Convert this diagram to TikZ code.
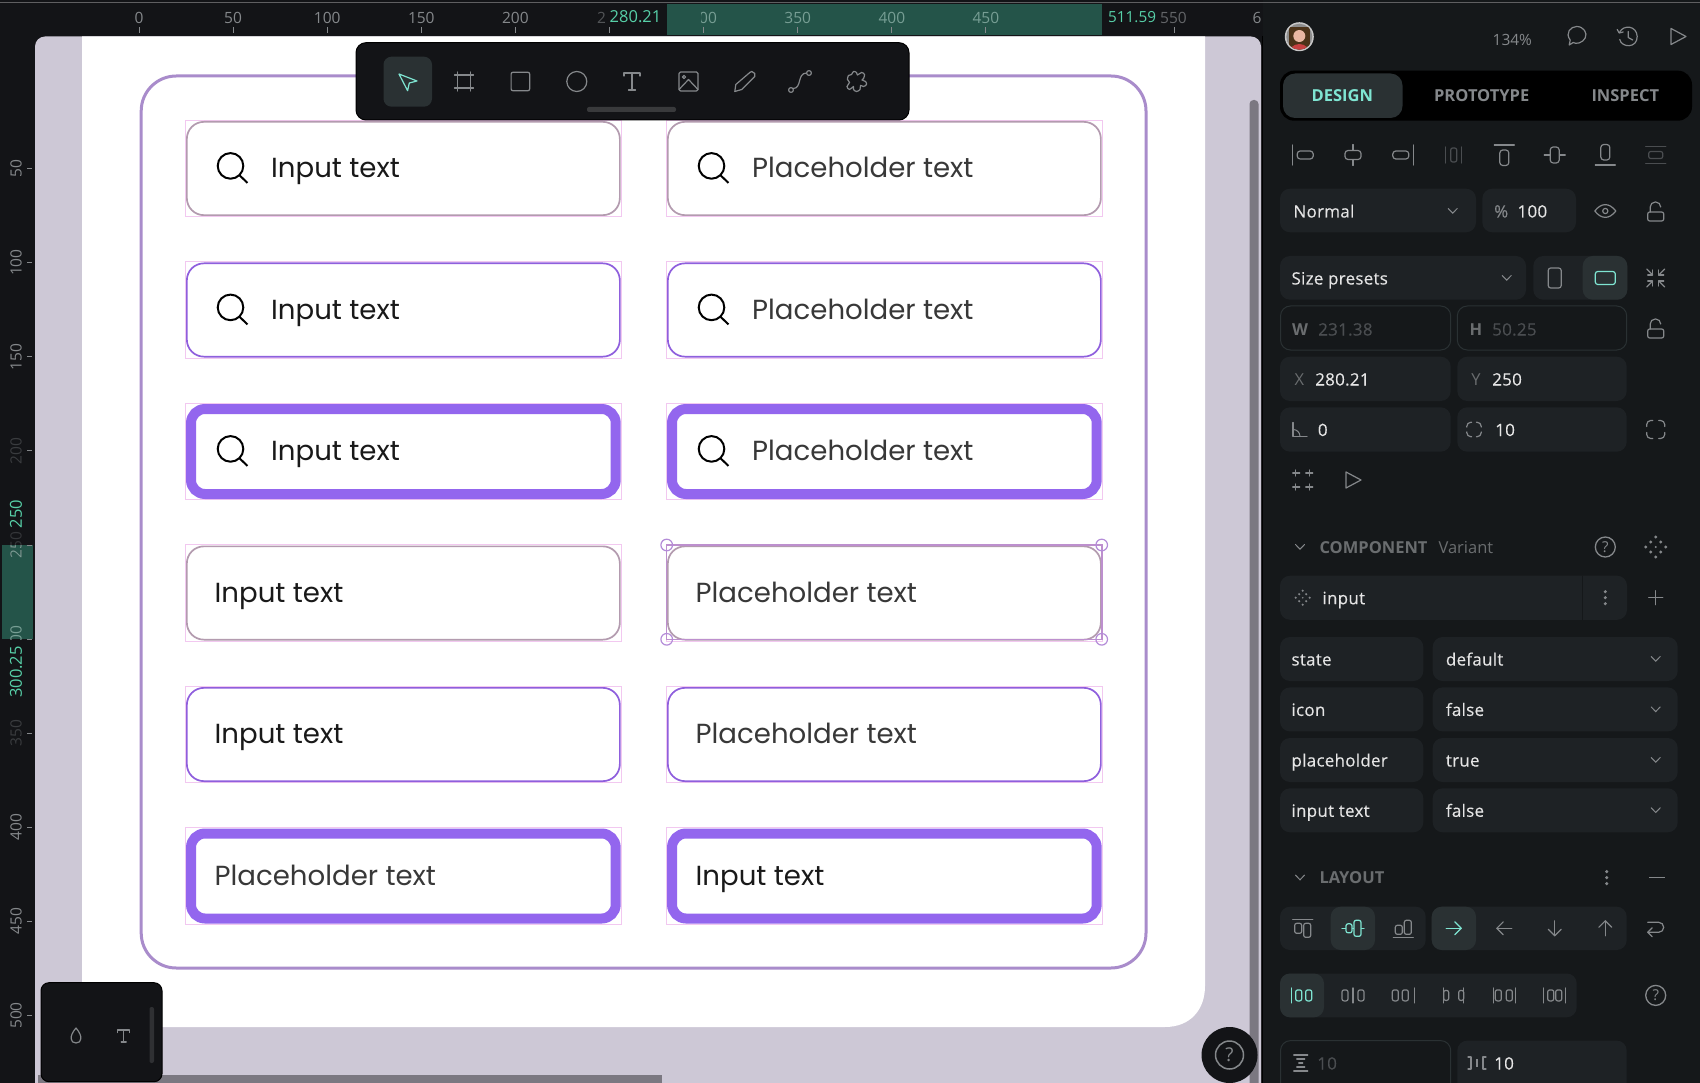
\documentclass[tikz,border=0pt]{standalone}
\usepackage{fontspec}
\setmainfont{Open Sans}
\newfontfamily\inputfont{Poppins}
\newfontfamily\panelfam[FakeBold=0.25,LetterSpace=1.5]{Open Sans}
\usetikzlibrary{positioning}
\definecolor{panelbg}{HTML}{15181A}
\definecolor{rulerbg}{HTML}{131417}
\definecolor{canvasbg}{HTML}{CDC8D6}
\definecolor{bandgreen}{HTML}{245449}
\definecolor{mintgreen}{HTML}{57D0A8}
\definecolor{tealicon}{HTML}{7FE5D2}
\definecolor{fieldbg}{HTML}{1E2225}
\definecolor{tilebg}{HTML}{2A3133}
\definecolor{icongray}{HTML}{85888B}
\definecolor{dimgray}{HTML}{4A4D50}
\definecolor{framepurple}{HTML}{A98CCB}
\definecolor{boxpurple}{HTML}{8F5FDD}
\definecolor{thickpurple}{HTML}{9366EE}
\definecolor{boxgray}{HTML}{B39BAF}
\definecolor{guidepink}{HTML}{F2C8F0}
\definecolor{handlepurple}{HTML}{B48CD8}
\definecolor{selectpurple}{HTML}{BD8FCE}
\tikzstyle{inputbox}=[anchor=north west,inner sep=0pt,fill=white,rounded corners=17pt,minimum width=433pt,minimum height=93.3pt,line width=1.7pt]
\tikzstyle{greybox}=[inputbox,draw=boxgray]
\tikzstyle{thinbox}=[inputbox,draw=boxpurple]
\tikzstyle{thickbox}=[inputbox,draw=thickpurple,line width=10pt,rounded corners=14pt,minimum width=424.7pt,minimum height=85pt]
\tikzstyle{boxtext}=[anchor=west,inner sep=0pt,text height=19.3pt,text depth=0pt,font=\inputfont\fontsize{27.6}{30}\selectfont]
\tikzstyle{inputtext}=[boxtext,text=black!90]
\tikzstyle{placetext}=[boxtext,text=black!78]
\tikzstyle{rulertext}=[inner sep=0pt,text=icongray,font=\fontsize{15.5}{17}\selectfont]
\tikzstyle{greentext}=[inner sep=0pt,text=mintgreen,font=\fontsize{16.5}{18}\selectfont]
\tikzstyle{panelfont}=[anchor=west,inner sep=0pt,text height=13pt,text depth=0pt,text=white!90!black,font=\panelfam\fontsize{17}{19}\selectfont]
\tikzstyle{dimfont}=[panelfont,text=dimgray]
\tikzstyle{labelfont}=[inner sep=0pt,text height=12pt,text depth=0pt,text=icongray,font=\bfseries\fontsize{16.5}{19}\selectfont]
\tikzstyle{headfont}=[labelfont,anchor=west,text=icongray!80!black]
\tikzstyle{field}=[fill=fieldbg,rounded corners=10pt]
\tikzstyle{outlinefield}=[draw=tilebg,line width=1pt,rounded corners=10pt]
\tikzstyle{tile}=[fill=tilebg,rounded corners=10pt]
\tikzstyle{iconline}=[line width=1.2pt,line cap=round,line join=round]
\tikzset{
  searchicon/.pic={\draw[line width=2pt] (0,0) circle (12.8pt);
    \draw[line width=2pt] (8.8,9.2) -- (17,17);},
  chevron/.pic={\draw[line width=1pt,line cap=round] (-4.5,-2.5) -- (0,2.2) -- (4.5,-2.5);},
  lockicon/.pic={\draw[iconline,rounded corners=2pt] (-8,1) rectangle (8,10);
    \draw[iconline,rounded corners=5pt] (-5.5,1) -- (-5.5,-9) -- (5,-9) -- (5,-4);},
  eyeicon/.pic={\draw[iconline] (-10.5,0) .. controls (-4,-8.5) and (4,-8.5) .. (10.5,0) .. controls (4,8.5) and (-4,8.5) .. cycle;
    \draw[iconline] (0,0) circle (2.6pt);},
  playicon/.pic={\draw[iconline] (-7,-8) -- (8,0) -- (-7,8) -- cycle;},
  commenticon/.pic={\draw[iconline] (-7.5,9) -- (-6.5,4) .. controls (-12,-3) and (-6,-9.5) .. (0,-9.5) .. controls (7,-9.5) and (11,-3) .. (8.5,2) .. controls (6,7) and (-1,8.5) .. (-3.5,6.5) -- cycle;},
  historyicon/.pic={\draw[iconline] (-8,-4.5) .. controls (-4,-12) and (9,-11) .. (9.5,0) .. controls (9.5,12) and (-6,11.5) .. (-8,3);
    \draw[iconline] (-10.5,-7) -- (-8.5,-3.5) -- (-4.5,-4.5);
    \draw[iconline] (0.5,-5) -- (0.5,1) -- (5,3.5);},
  alignleft/.pic={\draw[iconline] (-10,-10) -- (-10,10);
    \draw[iconline,rounded corners=3pt] (-5.5,-4) rectangle (10.5,4);},
  alignhmid/.pic={\draw[iconline] (0,-10.5) -- (0,10.5);
    \draw[iconline,fill=panelbg,rounded corners=3pt] (-8,-4.5) rectangle (8,4.5);},
  alignright/.pic={\draw[iconline] (10,-10) -- (10,10);
    \draw[iconline,rounded corners=3pt] (-10.5,-4) rectangle (5.5,4);},
  disthoriz/.pic={\draw[iconline] (-8,-8) -- (-8,8);
    \draw[iconline] (8,-8) -- (8,8);
    \draw[iconline,rounded corners=2pt] (-3,-7) rectangle (3,7);},
  aligntop/.pic={\draw[iconline] (-10,-10) -- (10,-10);
    \draw[iconline,rounded corners=3pt] (-4.5,-5) rectangle (4.5,10.5);},
  alignvmid/.pic={\draw[iconline] (-10.5,0) -- (10.5,0);
    \draw[iconline,fill=panelbg,rounded corners=3pt] (-4.5,-8) rectangle (4.5,8);},
  alignbottom/.pic={\draw[iconline] (-10,10) -- (10,10);
    \draw[iconline,rounded corners=3pt] (-4.5,-10.5) rectangle (4.5,5);},
  distvert/.pic={\draw[iconline] (-10,-8.5) -- (10,-8.5);
    \draw[iconline] (-10,8.5) -- (10,8.5);
    \draw[iconline,rounded corners=2pt] (-7,-3.5) rectangle (7,3.5);},
  tallrect/.pic={\draw[iconline,rounded corners=2.5pt] (-6.5,-10) rectangle (6.5,10);},
  widerect/.pic={\draw[iconline,rounded corners=2.5pt] (-10,-6.5) rectangle (10,6.5);},
  shrinkicon/.pic={\foreach \sx/\sy in {1/1,1/-1,-1/1,-1/-1}{
      \draw[iconline] (\sx*9,\sy*9) -- (\sx*3,\sy*3);
      \draw[iconline] (\sx*8,\sy*3) -- (\sx*3,\sy*3) -- (\sx*3,\sy*8);}},
  angleicon/.pic={\draw[iconline] (-7,-7) -- (-7,7) -- (7,7);
    \draw[line width=1pt] (-7,0) .. controls (-3,0) and (0,3) .. (0,7);},
  cornericon/.pic={\foreach \sx/\sy in {1/1,1/-1,-1/1,-1/-1}
      \draw[iconline,rounded corners=4pt] (\sx*9,\sy*3) -- (\sx*9,\sy*9) -- (\sx*3,\sy*9);},
  cropicon/.pic={\foreach \sx/\sy in {1/1,1/-1,-1/1,-1/-1}{
      \draw[iconline] (\sx*3,\sy*7) -- (\sx*10,\sy*7);
      \draw[iconline] (\sx*7,\sy*4) -- (\sx*7,\sy*10);}},
  helpicon/.pic={\draw[line width=1.3pt] (0,0) circle (10pt);
    \node[inner sep=0pt,font=\fontsize{15}{15}\selectfont] (mark) at (0,0) {?};},
  dotsicon/.pic={\foreach \d in {-6,0,6} \fill (0,\d) circle (1.7pt);},
  plusicon/.pic={\draw[iconline] (-7,0) -- (7,0);
    \draw[iconline] (0,-7) -- (0,7);},
  componenticon/.pic={\foreach \a/\b in {0/-10,0/10,-10/0,10/0} \fill (\a,\b) circle (1.7pt);
    \foreach \a/\b in {-5/-5,5/-5,-5/5,5/5} \fill (\a,\b) circle (1.7pt);
    \foreach \a/\b in {0/0} \fill (\a,\b) circle (1.2pt);},
  arrowicon/.pic={\draw[iconline] (-7.5,0) -- (7.5,0);
    \draw[iconline] (1,-6.5) -- (7.5,0) -- (1,6.5);},
  wrapicon/.pic={\draw[iconline,rounded corners=5pt] (-8,-6) -- (8,-6) -- (8,4) -- (-8,4);
    \draw[iconline] (-3.5,-0.5) -- (-8,4) -- (-3.5,8.5);},
  rowtop/.pic={\draw[iconline] (-10,-9) -- (10,-9);
    \draw[iconline,rounded corners=2pt] (-8,-5) rectangle (-1,5);
    \draw[iconline,rounded corners=2pt] (1,-5) rectangle (8,9);},
  rowmid/.pic={\draw[iconline] (-11,0) -- (11,0);
    \draw[iconline,fill=tilebg,rounded corners=2pt] (-7,-4.5) rectangle (-1,4.5);
    \draw[iconline,fill=tilebg,rounded corners=2pt] (1,-8) rectangle (8,8);},
  rowbottom/.pic={\draw[iconline] (-10,9) -- (10,9);
    \draw[iconline,rounded corners=2pt] (-8,-3) rectangle (-1,6);
    \draw[iconline,rounded corners=2pt] (1,-8) rectangle (8,6);},
  distleft/.pic={\draw[iconline] (-11,-7.5) -- (-11,7.5);
    \draw[iconline,rounded corners=2pt] (-7,-5.5) rectangle (-1,5.5);
    \draw[iconline,rounded corners=2pt] (3,-5.5) rectangle (9,5.5);},
  distmid/.pic={\draw[iconline] (0,-7.5) -- (0,7.5);
    \draw[iconline,rounded corners=2pt] (-11,-5.5) rectangle (-5,5.5);
    \draw[iconline,rounded corners=2pt] (5,-5.5) rectangle (11,5.5);},
  distright/.pic={\draw[iconline] (11,-7.5) -- (11,7.5);
    \draw[iconline,rounded corners=2pt] (-11,-5.5) rectangle (-5,5.5);
    \draw[iconline,rounded corners=2pt] (-1,-5.5) rectangle (5,5.5);},
  distapart/.pic={\draw[iconline] (-10,-7.5) -- (-10,7.5);
    \draw[iconline] (10,-7.5) -- (10,7.5);
    \draw[iconline,rounded corners=2pt] (-10,-5) rectangle (-5,5);
    \draw[iconline,rounded corners=2pt] (5,-5) rectangle (10,5);},
  distevena/.pic={\draw[iconline] (-11,-7.5) -- (-11,7.5);
    \draw[iconline] (11,-7.5) -- (11,7.5);
    \draw[iconline,rounded corners=2pt] (-9,-5.5) rectangle (-3,5.5);
    \draw[iconline,rounded corners=2pt] (2,-5.5) rectangle (8,5.5);},
  distevenb/.pic={\draw[iconline] (-11,-7.5) -- (-11,7.5);
    \draw[iconline] (11,-7.5) -- (11,7.5);
    \draw[iconline,rounded corners=2pt] (-7,-5.5) rectangle (-1,5.5);
    \draw[iconline,rounded corners=2pt] (1,-5.5) rectangle (7,5.5);},
  gapvert/.pic={\draw[iconline] (-7,-8) -- (7,-8);
    \draw[iconline] (-7,8) -- (7,8);
    \draw[iconline] (-4,-4) -- (4,-4);
    \draw[iconline] (-4,4) -- (4,4);
    \draw[iconline] (-2,0) -- (2,0);},
  gaphoriz/.pic={\draw[iconline] (-9,-6) -- (-6,-6) -- (-6,6) -- (-9,6);
    \draw[iconline] (9,-6) -- (6,-6) -- (6,6) -- (9,6);
    \fill (-1.2,-4) rectangle (1.2,4);},
  cursoricon/.pic={\draw[iconline] (-8.7,-7.5) -- (9.3,-0.5) -- (1.6,1.5) -- (-0.1,9.2) -- cycle;},
  framesicon/.pic={\draw[iconline] (-6.5,-9.5) -- (-6.5,9.5);
    \draw[iconline] (6.5,-9.5) -- (6.5,9.5);
    \draw[iconline] (-9.5,-6.5) -- (9.5,-6.5);
    \draw[iconline] (-9.5,6.5) -- (9.5,6.5);},
  recticon/.pic={\draw[iconline,rounded corners=2pt] (-9.3,-9.3) rectangle (9.3,9.3);},
  ovalicon/.pic={\draw[iconline] (0,0) circle (10pt);},
  texticon/.pic={\draw[iconline] (-8,-5.5) -- (-8,-8.5) -- (8,-8.5) -- (8,-5.5);
    \draw[iconline] (0,-8.5) -- (0,8.5);
    \draw[iconline] (-3.5,8.5) -- (3.5,8.5);},
  imageicon/.pic={\draw[iconline,rounded corners=1.5pt] (-9.5,-9.5) rectangle (9.5,9.5);
    \draw[iconline] (-9.5,8) -- (0,-2) -- (9.5,8);
    \draw[iconline] (-4.5,-4.5) circle (1.6pt);},
  pencilicon/.pic={\draw[iconline] (-10,10) -- (-9,3) -- (5,-9) -- (7,-10) -- (10,-8) -- (10,-5) -- (-3,8) -- cycle;},
  curveicon/.pic={\draw[iconline] (-9,8.5) circle (2.4pt);
    \draw[iconline] (9,-8.5) circle (2.4pt);
    \draw[iconline] (-6.8,7) .. controls (2,7) and (-3,-8.5) .. (6.6,-8.5);},
  puzzleicon/.pic={\draw[iconline] plot[smooth cycle,tension=0.6] coordinates {(-3,-10) (0,-9) (1,-6.5) (5,-9) (8,-7) (7,-3) (5.5,-1.5) (9,0) (10,3) (7,5) (4,4) (3.5,8) (0,10) (-3,8) (-3,5) (-7,8) (-9.5,5) (-7,1) (-9,-2) (-8,-6) (-5,-7)};},
  dropicon/.pic={\draw[iconline] (0,-8) .. controls (-7,0) and (-6,7) .. (0,7) .. controls (6,7) and (7,0) .. (0,-8) -- cycle;},
  serificon/.pic={\draw[iconline] (-6,-3.5) -- (-6,-6) -- (6,-6) -- (6,-3.5);
    \draw[iconline] (0,-6) -- (0,6);
    \draw[iconline] (-2.5,6) -- (2.5,6);},
}
\begin{document}
\begin{tikzpicture}[x=1pt,y=-1pt,color=icongray]
\useasboundingbox (0,0) rectangle (1700,1083);
\fill[rulerbg] (0,0) rectangle (1700,1083);
\draw[white!32!rulerbg,line width=1.2pt] (0,2.7) -- (1700,2.7);
\fill[bandgreen] (667,4) rectangle (1102,35);
\fill[bandgreen] (1.7,545) rectangle (33.3,639.3);
\foreach \v in {0,50,...,250,300,350,400,450,550} \draw[icongray,line width=1pt] (139+1.882*\v,27) -- (139+1.882*\v,33);
\foreach \v in {0,50,100,150,200} \node[rulertext] (top\v) at (139+1.882*\v,17.5) {\v};
\node[rulertext,text=icongray!55!rulerbg] (top250) at (601.5,17.5) {2};
\node[rulertext,text=icongray!70!mintgreen] (top300) at (703.6,17.5) {300};
\fill[bandgreen] (667,4) rectangle (700.5,35);
\foreach \v in {350,400,450} \node[rulertext,text=icongray!70!mintgreen] (top\v) at (139+1.882*\v,17.5) {\v};
\node[rulertext,text=icongray!70!rulerbg] (top550) at (1173.5,17.5) {550};
\node[rulertext,anchor=west] (top600) at (1252.5,17.5) {6};
\node[greentext,anchor=east] (startx) at (661.5,17) {280.21};
\node[greentext,anchor=west,font=\fontsize{15.3}{18}\selectfont] (endx) at (1108,17) {511.59};
\foreach \v in {50,100,150,400,450,500} \node[rulertext,rotate=90] (side\v) at (16,74.5+1.882*\v) {\v};
\foreach \v in {50,100,150,200,250,300,350,400,450,500} \draw[icongray,line width=1pt] (27,74.5+1.882*\v) -- (32,74.5+1.882*\v);
\node[rulertext,rotate=90,text=dimgray!70!rulerbg] (side200) at (16,451) {200};
\node[rulertext,rotate=90,text=dimgray!70!rulerbg] (side350) at (16,733) {350};
\node[rulertext,rotate=90,text=dimgray!60!rulerbg] (side250) at (16,545) {250};
\begin{scope}
\clip (1.7,545) rectangle (33.3,639.3);
\node[rulertext,rotate=90,text=icongray!70!mintgreen] (side250b) at (16,545) {250};
\node[rulertext,rotate=90,text=icongray!70!mintgreen] (side300) at (16,639.3) {300};
\end{scope}
\node[greentext,rotate=90] (starty) at (16,514) {250};
\node[greentext,rotate=90] (endy) at (16,672) {300.25};
\fill[canvasbg,rounded corners=10pt] (35,36.5) rectangle (1261,1100);
\begin{scope}
\clip[rounded corners=10pt] (35,36.5) rectangle (1261,1100);
\fill[white] (82,30) -- (1205,30) -- (1205,986) .. controls (1205,1010) and (1190,1027) .. (1165,1027) -- (82,1027) -- cycle;
\fill[black!40!canvasbg] (38,1074.5) -- (662,1074.5) -- (662,1083) -- (38,1083) -- cycle;
\fill[black!40!canvasbg,rounded corners=4pt] (1249.5,100) rectangle (1258.5,1090);
\end{scope}
\draw[framepurple,line width=3pt,rounded corners=35pt] (141.2,76) rectangle (1146,968);
\foreach \x/\c in {186/a,667/b} \foreach \y/\r in {121/1,262.5/2,404/3,545.5/4,687/5,828.5/6} \draw[guidepink,line width=1pt] (\x-1,\y-0.8) rectangle (\x+435.5,\y+95.5);
\node[greybox] (a1) at (186,121) {};
\node[greybox] (b1) at (667,121) {};
\node[thinbox] (a2) at (186,262.5) {};
\node[thinbox] (b2) at (667,262.5) {};
\node[thickbox] (a3) at (186,404) {};
\node[thickbox] (b3) at (667,404) {};
\node[greybox] (a4) at (186,545.5) {};
\node[greybox] (b4) at (667,545.5) {};
\node[thinbox] (a5) at (186,687) {};
\node[thinbox] (b5) at (667,687) {};
\node[thickbox] (a6) at (186,828.5) {};
\node[thickbox] (b6) at (667,828.5) {};
\foreach \c in {a,b} \foreach \r in {1,2,3} {
  \pic[color=black] at ([xshift=44.5pt,yshift=2.6pt]\c\r.west) {searchicon};
}
\foreach \r in {1,2,3} {
  \node[inputtext] (a\r text) at ([xshift=85pt,yshift=0.4pt]a\r.west) {Input text};
  \node[placetext] (b\r text) at ([xshift=85pt,yshift=0.4pt]b\r.west) {Placeholder text};
}
\foreach \r in {4,5} {
  \node[inputtext] (a\r text) at ([xshift=28.5pt,yshift=0.4pt]a\r.west) {Input text};
  \node[placetext] (b\r text) at ([xshift=28.5pt,yshift=0.4pt]b\r.west) {Placeholder text};
}
\node[placetext] (a6text) at ([xshift=28.5pt,yshift=0.4pt]a6.west) {Placeholder text};
\node[inputtext] (b6text) at ([xshift=28.5pt,yshift=0.4pt]b6.west) {Input text};
\draw[selectpurple,line width=1.5pt] (666.4,545) rectangle (1102,639.5);
\foreach \a/\b in {666.7/545,1101.7/545,666.7/639.3,1101.7/639.3} \draw[handlepurple,line width=1.2pt] (\a,\b) circle (5.8pt);
\fill[rulerbg,draw=black,line width=1pt,rounded corners=10pt] (356,42.7) rectangle (909,120);
\fill[tile,rounded corners=8pt] (383.5,56.7) rectangle (432,106.7);
\pic[color=tealicon] at (407.7,81.5) {cursoricon};
\pic at (464,81.5) {framesicon};
\pic at (520.4,81.5) {recticon};
\pic at (576.8,81.5) {ovalicon};
\pic at (632,81.5) {texticon};
\pic at (688.5,81.5) {imageicon};
\pic at (744.8,81.5) {pencilicon};
\pic at (800,81.5) {curveicon};
\pic at (856.5,81.5) {puzzleicon};
\fill[white!16!rulerbg,rounded corners=2pt] (587,107) rectangle (676,112);
\fill[rulerbg,draw=black,line width=1pt,rounded corners=8pt] (41,982.7) rectangle (162,1081.7);
\pic at (76,1036) {dropicon};
\pic at (123.7,1036) {serificon};
\fill[white!12!rulerbg,rounded corners=2pt] (149.5,1007) rectangle (154,1063);
\fill[rulerbg] (1229.5,1055) circle (28pt);
\draw[icongray,line width=1.5pt] (1229.5,1055) circle (14pt);
\node[inner sep=0pt,text=icongray,font=\fontsize{19}{19}\selectfont] (canvashelp) at (1229.5,1055) {?};
\fill[panelbg] (1262.5,0) rectangle (1700,1083);
\draw[white!32!rulerbg,line width=1.2pt] (1262.5,2.7) -- (1700,2.7);
\draw[black,line width=1pt] (1262,36) -- (1262,1083);
\fill[white!78!black] (1299.3,36.7) circle (14.5pt);
\begin{scope}
\clip (1299.3,36.7) circle (13pt);
\fill[white!55!black] (1285,22) rectangle (1314,52);
\fill[black!60!brown] (1289,27) rectangle (1310,50);
\fill[red!25!brown!45!white] (1299.3,36) circle (6pt);
\fill[red!70!black!75!white] (1299.3,55) circle (11pt);
\end{scope}
\node[inner sep=0pt,text=icongray,font=\fontsize{15.5}{17}\selectfont] (zoomlevel) at (1512.3,40) {134\%};
\pic at (1576.7,36) {commenticon};
\pic at (1627.7,36.5) {historyicon};
\pic at (1678,36.5) {playicon};
\fill[black,rounded corners=14pt] (1280,70.7) rectangle (1692,120.7);
\fill[tile,rounded corners=12pt] (1283,73.5) rectangle (1402.5,118);
\node[labelfont,text=tealicon] (designtab) at (1342.3,96) {DESIGN};
\node[labelfont] (prototypetab) at (1481.7,96) {PROTOTYPE};
\node[labelfont] (inspecttab) at (1625.3,96) {INSPECT};
\pic at (1302.7,155) {alignleft};
\pic at (1353,155) {alignhmid};
\pic at (1403.3,155) {alignright};
\pic[color=dimgray] at (1453.7,155) {disthoriz};
\pic at (1504.3,155) {aligntop};
\pic at (1554.7,155) {alignvmid};
\pic at (1605.3,155) {alignbottom};
\pic[color=dimgray] at (1655.7,155) {distvert};
\fill[field] (1280,188.7) rectangle (1476,232.3);
\node[panelfont] (blendmode) at (1293.3,211) {Normal};
\pic at (1452.7,211) {chevron};
\fill[field] (1482.3,188.7) rectangle (1576,232.3);
\node[panelfont,text=icongray] (percentsign) at (1494,211) {\%};
\node[panelfont] (opacity) at (1517.3,211) {100};
\pic at (1605.3,211) {eyeicon};
\pic at (1655.7,211) {lockicon};
\fill[field] (1280,256) rectangle (1526,299.7);
\node[panelfont] (sizepresets) at (1291.3,278) {Size presets};
\pic at (1506.7,278) {chevron};
\fill[field] (1533.3,256) rectangle (1627.3,299.7);
\fill[tile] (1582.7,256) rectangle (1627.3,299.7);
\pic at (1554.7,278) {tallrect};
\pic[color=tealicon] at (1605.3,278) {widerect};
\pic at (1655.7,278) {shrinkicon};
\draw[outlinefield] (1280.5,306) rectangle (1450.7,350);
\draw[outlinefield] (1457.3,306) rectangle (1626.7,350);
\node[labelfont,text=icongray!80!black] (wlabel) at (1300,329) {W};
\node[dimfont] (wvalue) at (1318,329) {231.38};
\node[labelfont,text=icongray!80!black] (hlabel) at (1476,329) {H};
\node[dimfont] (hvalue) at (1492,329) {50.25};
\pic at (1655.7,328) {lockicon};
\fill[field] (1280,356.7) rectangle (1450.7,401);
\fill[field] (1457.3,356.7) rectangle (1626.7,401);
\node[labelfont,text=icongray!80!black,font=\fontsize{16.5}{19}\selectfont] (xlabel) at (1299.3,379) {X};
\node[panelfont] (xvalue) at (1315,379) {280.21};
\node[labelfont,text=icongray!80!black,font=\fontsize{16.5}{19}\selectfont] (ylabel) at (1476,379) {Y};
\node[panelfont] (yvalue) at (1492,379) {250};
\fill[field] (1280,407.3) rectangle (1450.7,451.7);
\fill[field] (1457.3,407.3) rectangle (1626.7,451.7);
\pic at (1300,429.5) {angleicon};
\node[panelfont] (rotation) at (1317.7,429.5) {0};
\pic[scale=0.8] at (1474,429.5) {cornericon};
\node[panelfont] (radius) at (1495,429.5) {10};
\pic at (1655.7,429.5) {cornericon};
\pic at (1302.7,480) {cropicon};
\pic at (1353,480) {playicon};
\pic at (1300,547) {chevron};
\node[headfont] (componenthead) at (1319.3,547) {COMPONENT};
\node[headfont,font=\fontsize{16.5}{19}\selectfont] (varianthead) at (1438.3,547) {Variant};
\pic (helpa) at (1605.3,547) {helpicon};
\pic at (1655.7,547) {componenticon};
\fill[field] (1280,575.7) rectangle (1627,619.8);
\draw[panelbg,line width=1pt] (1582,575.7) -- (1582,619.8);
\pic[scale=0.7] at (1302.7,597.7) {componenticon};
\node[panelfont] (inputname) at (1322.3,597.7) {input};
\pic at (1605.3,597.7) {dotsicon};
\pic at (1655.7,597.7) {plusicon};
\foreach \y/\p/\v/\n in {659/state/default/a,709.4/icon/false/b,760/placeholder/true/c,810.3/input text/false/d} {
  \fill[field] (1280,\y-22) rectangle (1423.3,\y+22);
  \fill[field] (1432.7,\y-22) rectangle (1677.7,\y+22);
  \node[panelfont] (prop\n) at (1291.3,\y) {\p};
  \node[panelfont] (val\n) at (1445.7,\y) {\v};
  \pic at (1655.7,\y) {chevron};
}
\pic at (1300,877.6) {chevron};
\node[headfont] (layouthead) at (1319.3,877.6) {LAYOUT};
\pic at (1606.7,877.6) {dotsicon};
\draw[icongray,line width=1.5pt] (1649,877.6) -- (1665,877.6);
\fill[field] (1280,906.7) rectangle (1425.7,950);
\fill[tile] (1330.7,906.7) rectangle (1375,950);
\fill[field] (1431.7,906.7) rectangle (1626.7,950);
\fill[tile] (1431.7,906.7) rectangle (1476,950);
\pic at (1302.7,928.3) {rowtop};
\pic[color=tealicon] at (1353,928.3) {rowmid};
\pic at (1403.3,928.3) {rowbottom};
\pic[color=tealicon] at (1453.7,928.3) {arrowicon};
\pic[rotate=180] at (1504.3,928.3) {arrowicon};
\pic[rotate=-90] at (1554.7,928.3) {arrowicon};
\pic[rotate=90] at (1605.3,928.3) {arrowicon};
\pic at (1655.7,928.3) {wrapicon};
\fill[field] (1280,973.5) rectangle (1576.7,1017.3);
\fill[tile] (1280,973.5) rectangle (1324,1017.3);
\pic[color=tealicon] at (1302.7,995.4) {distleft};
\pic at (1353,995.4) {distmid};
\pic at (1403.3,995.4) {distright};
\pic at (1453.7,995.4) {distapart};
\pic at (1504.3,995.4) {distevena};
\pic at (1554.7,995.4) {distevenb};
\pic (helpb) at (1655.7,995.4) {helpicon};
\draw[outlinefield] (1280.5,1040.6) rectangle (1450.7,1100);
\fill[field] (1457.3,1040.6) rectangle (1626.7,1100);
\pic at (1300.7,1063) {gapvert};
\node[dimfont] (rowgap) at (1317,1063) {10};
\pic at (1477,1063) {gaphoriz};
\node[panelfont] (colgap) at (1494,1063) {10};
\end{tikzpicture}
\end{document}
